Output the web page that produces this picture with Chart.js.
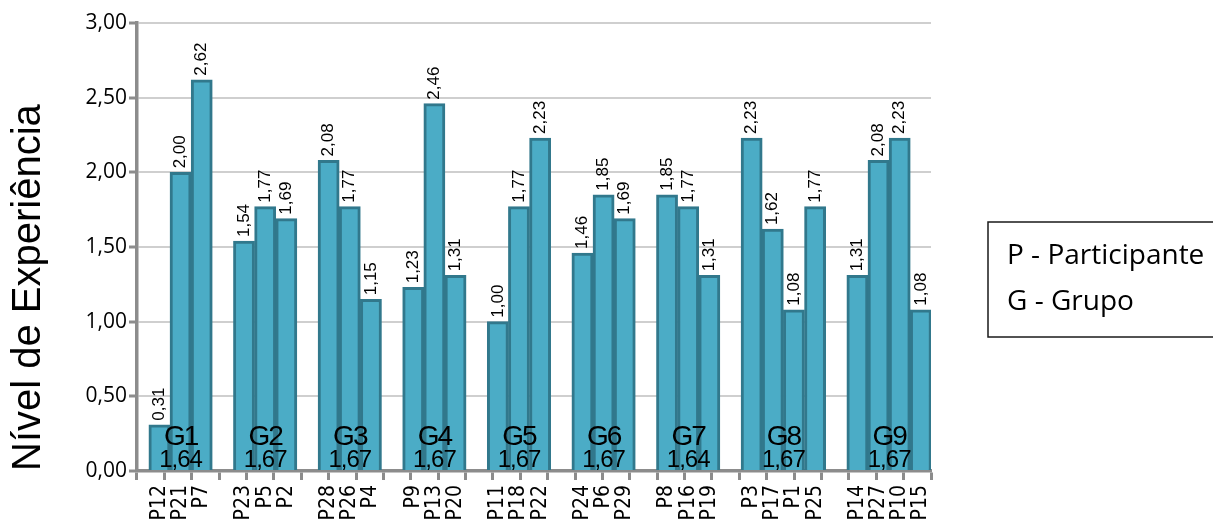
<!DOCTYPE html>
<html lang="pt">
<head>
<meta charset="utf-8">
<title>Nível de Experiência por participante</title>
<script src="https://cdn.jsdelivr.net/npm/chart.js@4/dist/chart.umd.min.js"></script>
<style>
  html, body { margin: 0; padding: 0; background: #fff; }
  #caixa { width: 1213px; height: 521px; }
</style>
</head>
<body>
<div id="caixa"><canvas id="grafico"></canvas></div>
<script>
// grupos, média de cada grupo e quantos participantes tem
const grupos = ['G1', 'G2', 'G3', 'G4', 'G5', 'G6', 'G7', 'G8', 'G9'];
const mediasGrupo = [1.64, 1.67, 1.67, 1.67, 1.67, 1.67, 1.64, 1.67, 1.67];
const tamanhoGrupo = [3, 3, 3, 3, 3, 3, 3, 4, 4];

// participantes pela ordem do eixo e o nível de cada um
const participantes = ['P12', 'P21', 'P7', 'P23', 'P5', 'P2', 'P28', 'P26', 'P4',
  'P9', 'P13', 'P20', 'P11', 'P18', 'P22', 'P24', 'P6', 'P29', 'P8', 'P16', 'P19',
  'P3', 'P17', 'P1', 'P25', 'P14', 'P27', 'P10', 'P15'];
const niveis = [0.31, 2.00, 2.62, 1.54, 1.77, 1.69, 2.08, 1.77, 1.15,
  1.23, 2.46, 1.31, 1.00, 1.77, 2.23, 1.46, 1.85, 1.69, 1.85, 1.77, 1.31,
  2.23, 1.62, 1.08, 1.77, 1.31, 2.08, 2.23, 1.08];

const marcasY = [0, 0.5, 1, 1.5, 2, 2.5, 3];
const legenda = ['P - Participante', 'G - Grupo'];

// posição de cada barra no eixo x, com uma casa vazia entre grupos
const posicao = [];
const grupoDe = [];
let k = 0;
tamanhoGrupo.forEach((n, g) => {
  for (let i = 0; i < n; i++) { posicao.push(k++); grupoDe.push(g); }
  k++;
});

const virgula = v => v.toFixed(2).replace('.', ',');

// valores por cima das barras + nome/média de cada grupo
const rotulos = {
  id: 'rotulos',
  afterDatasetsDraw(chart) {
    const ctx = chart.ctx;
    const meta = chart.getDatasetMeta(0);
    const dados = chart.data.datasets[0].data;
    ctx.save();
    ctx.fillStyle = '#000';
    ctx.font = '17px "Liberation Sans", Arial, sans-serif';
    ctx.textAlign = 'left';
    ctx.textBaseline = 'middle';
    meta.data.forEach((barra, i) => {
      ctx.save();
      ctx.translate(barra.x, barra.y - 4);
      ctx.rotate(-Math.PI / 2);
      ctx.fillText(virgula(dados[i].y), 0, 0);
      ctx.restore();
    });

    const xs = chart.scales.x;
    const fundo = chart.chartArea.bottom;
    ctx.textAlign = 'center';
    ctx.textBaseline = 'alphabetic';
    grupos.forEach((g, gi) => {
      const pos = posicao.filter((p, i) => grupoDe[i] === gi);
      const centro = (xs.getPixelForValue(pos[0]) + xs.getPixelForValue(pos[pos.length - 1])) / 2;
      ctx.font = '28px "Liberation Sans", Arial, sans-serif';
      ctx.letterSpacing = '-2px';
      ctx.fillText(g, centro, fundo - 26);
      ctx.font = '24px "Liberation Sans", Arial, sans-serif';
      ctx.letterSpacing = '-1px';
      ctx.fillText(virgula(mediasGrupo[gi]), centro, fundo - 4);
    });
    ctx.letterSpacing = '0px';
    ctx.restore();
  }
};

// caixa com a legenda das siglas
const caixaLegenda = {
  id: 'caixaLegenda',
  afterDraw(chart) {
    const ctx = chart.ctx;
    ctx.save();
    ctx.strokeStyle = '#1a1a1a';
    ctx.lineWidth = 1.5;
    ctx.strokeRect(988, 222, 240, 115);
    ctx.fillStyle = '#000';
    ctx.font = '28px "Open Sans", sans-serif';
    ctx.textAlign = 'left';
    ctx.textBaseline = 'alphabetic';
    ctx.fillText(legenda[0], 1007, 264);
    ctx.fillText(legenda[1], 1007, 310);
    ctx.restore();
  }
};

const cinzento = '#8c8c8c';

new Chart(document.getElementById('grafico'), {
  type: 'bar',
  data: {
    datasets: [{
      data: niveis.map((v, i) => ({ x: posicao[i], y: v })),
      backgroundColor: '#4bacc6',
      borderColor: '#31788c',
      borderWidth: 3,
      barPercentage: 1,
      categoryPercentage: 1
    }]
  },
  options: {
    responsive: true,
    maintainAspectRatio: false,
    animation: false,
    layout: { padding: { top: 23, right: 282, bottom: 0, left: 0 } },
    plugins: { legend: { display: false }, tooltip: { enabled: false } },
    scales: {
      x: {
        type: 'linear',
        position: 'bottom',
        weight: 1,
        min: -1.06,
        max: 36.48,
        offset: false,
        afterBuildTicks: s => { s.ticks = posicao.map(v => ({ value: v })); },
        afterFit: s => { s.height = 41; },
        grid: { display: false, drawTicks: false, offset: false },
        border: { display: false },
        ticks: {
          autoSkip: false,
          minRotation: 90,
          maxRotation: 90,
          padding: 5,
          color: '#000',
          font: { family: '"Liberation Sans Narrow", "DejaVu Sans Condensed", sans-serif', size: 21 },
          callback: (v, i) => participantes[i]
        }
      },
      // só as marcas do eixo, uma por participante
      xt: {
        type: 'category',
        axis: 'x',
        position: 'bottom',
        weight: 0,
        labels: participantes,
        offset: true,
        grid: { display: true, drawOnChartArea: false, offset: true, tickLength: 9, tickColor: cinzento, tickWidth: 3 },
        border: { display: true, color: cinzento, width: 3.5 },
        ticks: { display: false }
      },
      y: {
        min: 0,
        max: 3,
        afterBuildTicks: s => { s.ticks = marcasY.map(v => ({ value: v })); },
        afterFit: s => { s.width = 137; },
        grid: {
          color: c => (c.tick && c.tick.value === 0) ? 'rgba(0,0,0,0)' : '#cfcfcf',
          lineWidth: 2,
          tickColor: cinzento,
          tickLength: 8,
          tickWidth: 3
        },
        border: { color: cinzento, width: 3.5 },
        ticks: {
          color: '#000',
          padding: 2,
          font: { family: '"Open Sans", sans-serif', size: 21 },
          callback: v => virgula(v)
        },
        title: {
          display: true,
          text: 'Nível de Experiência',
          align: 'start',
          color: '#000',
          font: { family: '"Liberation Sans", Arial, sans-serif', size: 40 },
          padding: { top: 5, bottom: 0 }
        }
      }
    }
  },
  plugins: [rotulos, caixaLegenda]
});
</script>
</body>
</html>
